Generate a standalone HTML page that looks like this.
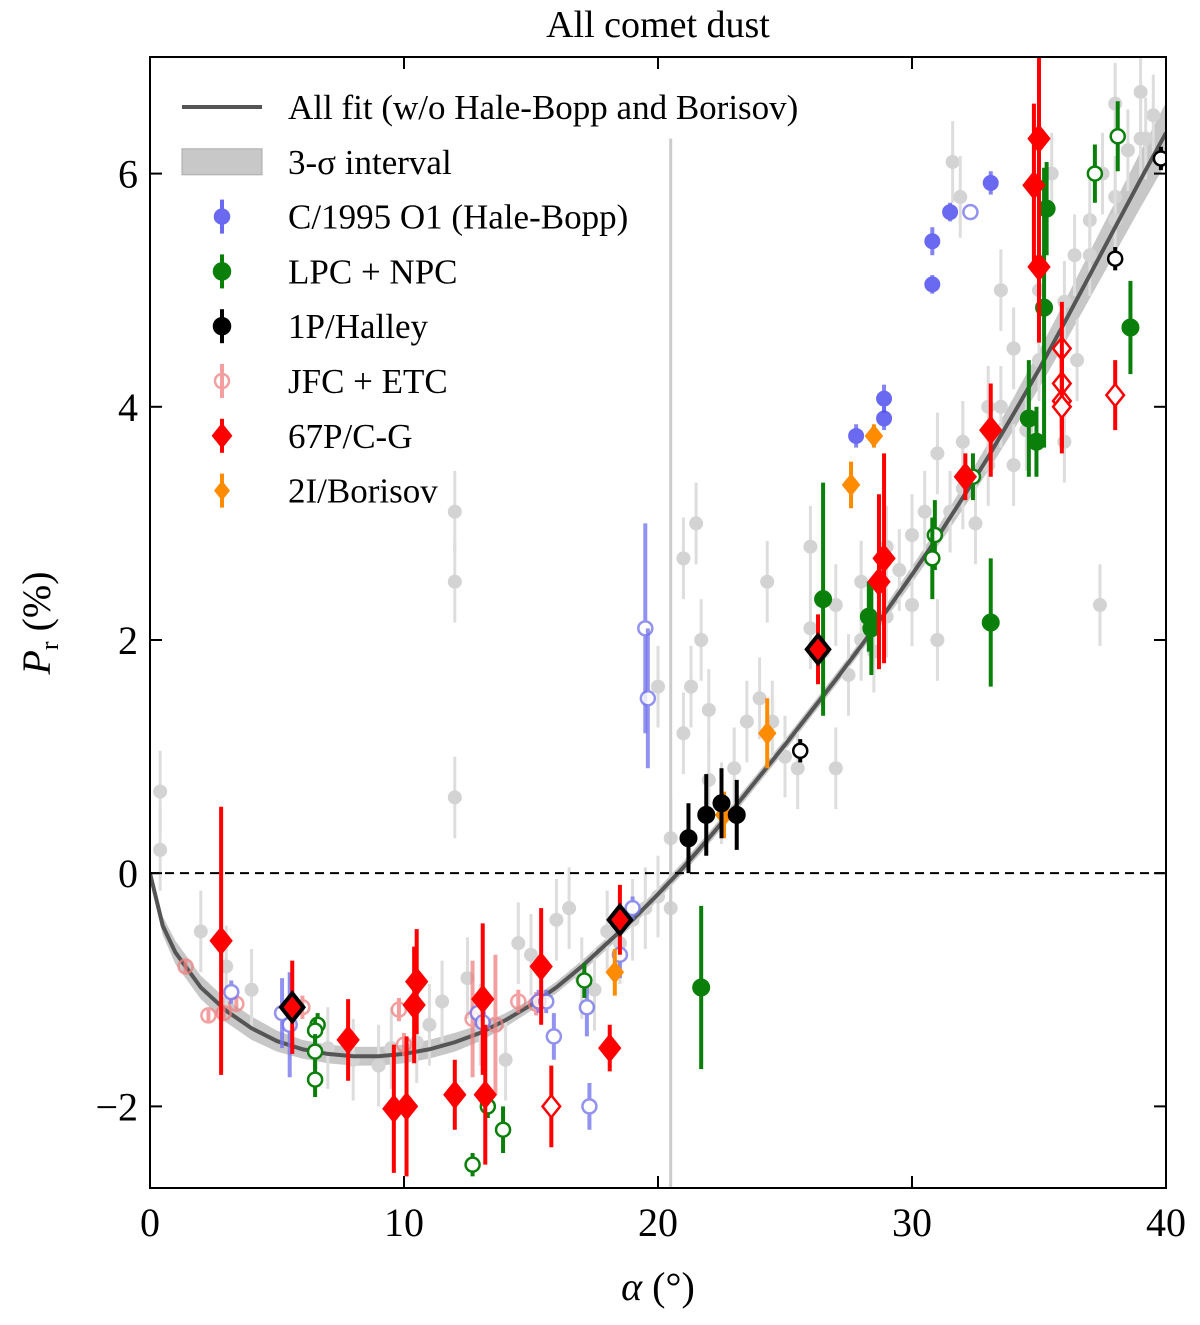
<!DOCTYPE html>
<html><head><meta charset="utf-8"><style>
body{margin:0;background:#fff}
svg text{font-family:"Liberation Serif","DejaVu Serif",serif}
</style></head><body>
<svg id="chart" width="1200" height="1320" xmlns="http://www.w3.org/2000/svg">
<text x="658" y="37" font-size="38" text-anchor="middle">All comet dust</text>
<g id="plot"></g>
</svg>
<script>
const fitA=[0,0.5,1,2,3,4,5,6,7,8,9,10,11,12,13,14,15,16,17,18,19,20,21,22,23,24,25,26,27,28,29,30,31,32,33,34,35,36,37,38,39,40];
const fitP=[0,-0.45,-0.68,-0.98,-1.18,-1.33,-1.44,-1.51,-1.55,-1.57,-1.57,-1.55,-1.51,-1.45,-1.37,-1.26,-1.13,-0.98,-0.8,-0.6,-0.4,-0.18,0.05,0.3,0.56,0.83,1.1,1.38,1.66,1.95,2.25,2.56,2.88,3.22,3.57,3.94,4.32,4.72,5.13,5.54,5.95,6.35];
const fitBand=[0.05,0.08,0.1,0.1,0.1,0.1,0.09,0.08,0.08,0.08,0.08,0.08,0.08,0.08,0.07,0.06,0.05,0.05,0.05,0.05,0.05,0.05,0.05,0.05,0.05,0.05,0.05,0.05,0.05,0.05,0.06,0.07,0.08,0.1,0.12,0.14,0.16,0.18,0.2,0.22,0.24,0.26];
const greyA=[0.4,0.4,2,3,4,5.5,7,8,9,9.5,10.5,11,11.5,12,12,12,12.5,13,14,14.5,15,16,16.5,17,17.5,18,18.5,19,19.5,20,20,20.5,20.5,21,21,21.3,21.5,21.7,22,22,22.5,23,23.5,24,24.3,24.5,25,25.5,26,26,26.5,27,27,27.5,28,28,28.5,29,29,29.5,30,30,30.5,31,31,31.5,32,32,32.5,33,33,33.5,34,34,34.5,35,35,35.5,36,36,36.5,37,37,37.5,38,38,38.5,39,39,39.5,31.6,31.9,33.5,34,36.4,38,37.4,39.2];
const greyP=[0.7,0.2,-0.5,-0.8,-1.0,-1.2,-1.5,-1.6,-1.65,-1.5,-1.45,-1.3,-1.1,3.1,2.5,0.65,-0.9,-1.3,-1.6,-0.6,-0.7,-0.4,-0.3,-0.9,-1.0,-0.5,-0.6,-0.4,-0.3,-0.2,1.6,0.3,-0.3,2.7,1.2,1.6,3.0,2.0,1.4,0.8,0.6,0.9,1.3,1.5,2.5,1.3,1.0,0.9,2.1,2.8,1.9,2.3,0.9,1.7,2.5,2.0,1.9,2.2,2.8,2.6,2.3,2.9,3.1,2.0,3.6,3.1,3.3,3.7,3.0,3.5,4.0,4.0,3.5,4.5,3.8,4.4,5.0,6.0,3.7,4.9,4.4,5.6,5.3,6.0,5.8,6.6,6.2,6.7,6.3,6.5,6.1,5.8,5.0,4.5,5.3,5.6,2.3,6.3,6.0,6.7];
const hbA=[30.8,30.8,31.5,33.1,27.8,28.9,28.9], hbP=[5.42,5.05,5.67,5.92,3.75,4.07,3.9], hbE=[0.12,0.08,0.08,0.1,0.1,0.12,0.1];
const hboA=[32.3,19.5,19.6,3.2,5.2,5.5,12.9,13.1,15.3,15.6,15.9,17.2,17.3,18.5,19.0], hboP=[5.67,2.1,1.5,-1.02,-1.2,-1.3,-1.2,-1.28,-1.1,-1.1,-1.4,-1.15,-2.0,-0.7,-0.3], hboE=[0.05,0.9,0.6,0.1,0.3,0.45,0.1,0.1,0.1,0.1,0.2,0.25,0.2,0.2,0.1];
const gA=[35.3,35.2,34.6,34.9,38.6,26.5,28.3,28.4,33.1,21.7], gP=[5.7,4.85,3.9,3.7,4.68,2.35,2.2,2.1,2.15,-0.98], gE=[0.4,1.2,0.5,0.3,0.4,1.0,0.3,0.4,0.55,0.7];
const goA=[38.1,37.2,30.9,30.8,32.4,17.1,6.6,6.5,6.5,6.5,13.3,13.9,12.7], goP=[6.32,6.0,2.9,2.7,3.4,-0.92,-1.3,-1.35,-1.53,-1.77,-2.0,-2.2,-2.5], goE=[0.3,0.25,0.3,0.35,0.2,0.15,0.1,0.1,0.15,0.15,0.1,0.2,0.1];
const hA=[21.2,21.9,22.5,23.1], hP=[0.3,0.5,0.6,0.5], hE=[0.3,0.35,0.3,0.3];
const hoA=[25.6,38.0,39.8], hoP=[1.05,5.27,6.13], hoE=[0.1,0.1,0.1];
const jA=[1.4,2.3,2.9,3.4,6.0,9.8,10.0,12.7,13.6,14.5,15.2], jP=[-0.8,-1.22,-1.2,-1.12,-1.15,-1.17,-1.47,-1.25,-1.3,-1.1,-1.12], jE=[0.05,0.05,0.05,0.05,0.1,0.1,0.1,0.5,0.6,0.1,0.1];
const rA=[2.8,7.8,9.6,10.1,10.4,10.5,12.0,13.1,13.2,15.4,18.1,28.7,28.9,32.1,33.1,34.8,35.0,35.0], rP=[-0.58,-1.43,-2.02,-2.0,-1.13,-0.93,-1.9,-1.08,-1.9,-0.8,-1.5,2.5,2.7,3.4,3.8,5.9,6.3,5.2], rE=[1.15,0.35,0.55,0.6,0.5,0.45,0.3,0.65,0.6,0.5,0.2,0.75,0.9,0.2,0.4,0.7,0.9,0.65];
const rbA=[5.6,18.5,26.3], rbP=[-1.15,-0.4,1.92], rbE=[0.4,0.3,0.3];
const roA=[15.8,35.9,35.9,35.9,35.9,38.0], roP=[-2.0,4.5,4.2,4.05,4.0,4.1], roE=[0.35,0.4,0.4,0.4,0.4,0.3];
const bA=[28.5,27.6,24.3,18.3,22.6], bP=[3.75,3.33,1.2,-0.85,0.5], bE=[0.1,0.2,0.3,0.2,0.2];
const xTicks=[0,10,20,30,40], yTicks=[-2,0,2,4,6], yTickLabels=["\u22122","0","2","4","6"];

const X0=150,X1=1166,Y0=57,Y1=1188,pmin=-2.7,pmax=7.0;
const sx=a=>X0+(a/40)*(X1-X0);
const sy=p=>Y1-(p-pmin)/(pmax-pmin)*(Y1-Y0);
const NS="http://www.w3.org/2000/svg";
const plot=document.getElementById('plot');
function mk(tag,at,parent){const e=document.createElementNS(NS,tag);for(const k in at)e.setAttribute(k,at[k]);(parent||plot).appendChild(e);return e;}
const clip=mk('clipPath',{id:'clip'});mk('rect',{x:X0,y:Y0,width:X1-X0,height:Y1-Y0},clip);
const G=mk('g',{'clip-path':'url(#clip)'});


// band
let up=fitA.map((a,i)=>sx(a)+','+sy(fitP[i]+fitBand[i])), lo=fitA.map((a,i)=>sx(a)+','+sy(fitP[i]-fitBand[i])).reverse();
const band=mk('polygon',{points:up.concat(lo).join(' '),fill:'#999','fill-opacity':0.55},G);


// grey points
greyA.forEach((a,i)=>{
  const l=mk('line',{x1:sx(a),x2:sx(a),y1:sy(greyP[i]-0.35),y2:sy(greyP[i]+0.35),stroke:'#ddd','stroke-width':3},G);
  
  
  const c=mk('circle',{cx:sx(a),cy:sy(greyP[i]),r:7,fill:'#d3d3d3'},G);
  
  
});
const vl=mk('line',{x1:sx(20.5),x2:sx(20.5),y1:sy(6.3),y2:Y1,stroke:'#ccc','stroke-width':3},G);


// fit line
const fl=mk('polyline',{points:fitA.map((a,i)=>sx(a)+','+sy(fitP[i])).join(' '),fill:'none',stroke:'#555','stroke-width':4},G);


// zero line
const zl=mk('line',{x1:X0,x2:X1,y1:sy(0),y2:sy(0),stroke:'#000','stroke-width':2,'stroke-dasharray':'9,6'},G);


function series(A,P,E,o,name){
  A.forEach((a,i)=>{
    const x=sx(a),y=sy(P[i]);
    const g=mk('g',{opacity:o.op||1},G);
    
    
    mk('line',{x1:x,x2:x,y1:sy(P[i]-E[i]),y2:sy(P[i]+E[i]),stroke:o.ec,'stroke-width':4},g);
    if(o.shape==='d'){const s=o.r;mk('polygon',{points:`${x},${y-s} ${x+s*0.8},${y} ${x},${y+s} ${x-s*0.8},${y}`,fill:o.fill,stroke:o.stroke||o.fill,'stroke-width':o.sw||2},g);}
    else mk('circle',{cx:x,cy:y,r:o.r,fill:o.fill,stroke:o.stroke||o.fill,'stroke-width':o.sw||2},g);
  });
}
series(jA,jP,jE,{r:7,fill:'none',stroke:'#f08080',ec:'#f08080',op:0.75,sw:2.5},'jfc-etc-point');
series(hbA,hbP,hbE,{r:7,fill:'#4444ee',ec:'#6666ee',op:0.8},'hale-bopp-point');
series(hboA,hboP,hboE,{r:7,fill:'#fff',stroke:'#7777ee',ec:'#7777ee',op:0.8,sw:2.5},'hale-bopp-open-point');
series(gA,gP,gE,{r:8,fill:'#0a7f0a',ec:'#0a7f0a'},'lpc-npc-point');
series(goA,goP,goE,{r:7,fill:'#fff',stroke:'#0a7f0a',ec:'#0a7f0a',sw:2.5},'lpc-npc-open-point');
series(bA,bP,bE,{shape:'d',r:10,fill:'#ff8c00',ec:'#ff8c00'},'borisov-point');
series(rA,rP,rE,{shape:'d',r:13,fill:'#f00',ec:'#f00'},'67p-point');
series(roA,roP,roE,{shape:'d',r:11,fill:'#fff',stroke:'#f00',ec:'#f00',sw:2.5},'67p-open-point');
series(rbA,rbP,rbE,{shape:'d',r:14,fill:'#f00',stroke:'#000',ec:'#f00',sw:4},'67p-highlight-point');
series(hA,hP,hE,{r:8,fill:'#000',ec:'#000'},'halley-point');
series(hoA,hoP,hoE,{r:7,fill:'#fff',stroke:'#000',ec:'#000',sw:2.5},'halley-open-point');
// frame
const fr=mk('rect',{x:X0,y:Y0,width:X1-X0,height:Y1-Y0,fill:'none',stroke:'#000','stroke-width':2});


xTicks.forEach(t=>{
  const x=sx(t);
  mk('line',{x1:x,x2:x,y1:Y1,y2:Y1-12,stroke:'#000','stroke-width':2});
  mk('line',{x1:x,x2:x,y1:Y0,y2:Y0+12,stroke:'#000','stroke-width':2});
  const tx=mk('text',{x:x,y:Y1+48,'font-size':40,'text-anchor':'middle'});tx.textContent=t;
  
  
});
yTicks.forEach((t,i)=>{
  const y=sy(t);
  mk('line',{x1:X0,x2:X0+12,y1:y,y2:y,stroke:'#000','stroke-width':2});
  mk('line',{x1:X1,x2:X1-12,y1:y,y2:y,stroke:'#000','stroke-width':2});
  const tx=mk('text',{x:X0-12,y:y+14,'font-size':40,'text-anchor':'end'});tx.textContent=yTickLabels[i];
  
  
});
const xl=mk('text',{x:658,y:1300,'font-size':40,'text-anchor':'middle'});xl.innerHTML='<tspan font-style="italic">α</tspan> (°)';


const yl=mk('text',{transform:'translate(50,623) rotate(-90)','font-size':40,'text-anchor':'middle'});yl.innerHTML='<tspan font-style="italic">P</tspan><tspan font-size="26" dy="8">r</tspan><tspan dy="-8"> (%)</tspan>';


// legend
const L=mk('g',{});


const leg=[["All fit (w/o Hale-Bopp and Borisov)",'line'],["3-\u03c3 interval",'band'],["C/1995 O1 (Hale-Bopp)",'hb'],["LPC + NPC",'g'],["1P/Halley",'h'],["JFC + ETC",'j'],["67P/C-G",'r'],["2I/Borisov",'b']];
leg.forEach((e,i)=>{
  const y=107+i*54.8, x=222;
  const g=mk('g',{},L);
  
  
  if(e[1]==='line')mk('line',{x1:182,x2:262,y1:y,y2:y,stroke:'#555','stroke-width':4},g);
  else if(e[1]==='band')mk('rect',{x:182,y:y-13,width:80,height:26,fill:'#c8c8c8',stroke:'#aaa'},g);
  else{
    const c={hb:['#4444ee',0.8,'c',7],g:['#0a7f0a',1,'c',8],h:['#000',1,'c',8],j:['#f08080',0.75,'o',7],r:['#f00',1,'d',13],b:['#ff8c00',1,'d',10]}[e[1]];
    const gg=mk('g',{opacity:c[1]},g);
    mk('line',{x1:x,x2:x,y1:y-17,y2:y+17,stroke:c[0],'stroke-width':4},gg);
    if(c[2]==='d')mk('polygon',{points:`${x},${y-c[3]} ${x+c[3]*0.8},${y} ${x},${y+c[3]} ${x-c[3]*0.8},${y}`,fill:c[0]},gg);
    else mk('circle',{cx:x,cy:y,r:c[3],fill:c[2]==='o'?'none':c[0],stroke:c[0],'stroke-width':2.5},gg);
  }
  const t=mk('text',{x:288,y:y+12,'font-size':35},g);t.textContent=e[0];
});
</script>
</body></html>
